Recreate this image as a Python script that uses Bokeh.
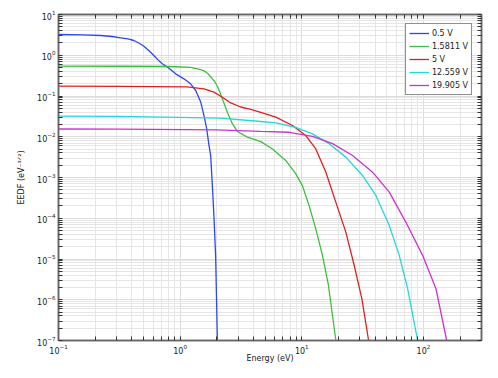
import numpy as np
from bokeh.plotting import figure
from bokeh.models import LogAxis, FixedTicker, Range1d, CustomJSTickFormatter
from bokeh.embed import file_html
from bokeh.resources import INLINE

# ---- data (log10 values) ----
series_labels = ["0.5 V", "1.5811 V", "5 V", "12.559 V", "19.905 V"]
series_colors = ["#2a48f5", "#3cbf3c", "#e02020", "#22d8d8", "#cc33cc"]

logE_05 = [-1, -0.8, -0.654, -0.56, -0.49, -0.43, -0.38, -0.34, -0.298, -0.256, -0.216, -0.18, -0.147, -0.092, -0.037, 0.031, 0.086, 0.128, 0.169, 0.196, 0.218, 0.237, 0.251, 0.267, 0.28, 0.292, 0.306, 0.31]
logF_05 = [0.509, 0.50, 0.485, 0.46, 0.428, 0.40, 0.362, 0.30, 0.222, 0.11, -0.006, -0.12, -0.21, -0.317, -0.456, -0.579, -0.70, -0.865, -1.15, -1.48, -1.80, -2.21, -2.46, -3.32, -4.1, -4.96, -7.0, -7.5]

logE_158 = [-1, -0.5, -0.078, 0.086, 0.169, 0.2, 0.224, 0.245, 0.265, 0.285, 0.306, 0.327, 0.347, 0.388, 0.429, 0.470, 0.553, 0.663, 0.759, 0.868, 0.951, 1.005, 1.060, 1.115, 1.170, 1.219, 1.280, 1.29]
logF_158 = [-0.268, -0.27, -0.276, -0.30, -0.35, -0.39, -0.44, -0.51, -0.58, -0.65, -0.76, -0.91, -1.07, -1.40, -1.68, -1.87, -2.01, -2.12, -2.30, -2.58, -2.91, -3.20, -3.69, -4.26, -4.91, -5.65, -7.0, -7.3]

logE_5 = [-1, -0.5, 0.059, 0.196, 0.278, 0.347, 0.416, 0.498, 0.58, 0.663, 0.786, 0.923, 1.033, 1.115, 1.198, 1.280, 1.362, 1.431, 1.494, 1.549, 1.555]
logF_5 = [-0.759, -0.762, -0.775, -0.824, -0.906, -1.03, -1.17, -1.27, -1.33, -1.40, -1.52, -1.724, -1.97, -2.30, -2.87, -3.61, -4.34, -5.16, -5.98, -7.0, -7.2]

logE_1256 = [-1, -0.5, 0.333, 0.663, 0.786, 0.951, 1.088, 1.225, 1.362, 1.499, 1.609, 1.719, 1.801, 1.870, 1.952, 1.96]
logF_1256 = [-1.495, -1.50, -1.545, -1.626, -1.66, -1.77, -1.93, -2.17, -2.50, -2.95, -3.44, -4.18, -4.91, -5.73, -7.0, -7.3]

logE_1990 = [-1, -0.5, 0.3, 0.663, 0.896, 1.088, 1.253, 1.417, 1.582, 1.719, 1.856, 1.993, 2.103, 2.191, 2.2]
logF_1990 = [-1.81, -1.812, -1.83, -1.87, -1.89, -1.99, -2.17, -2.46, -2.87, -3.36, -4.10, -4.91, -5.73, -7.0, -7.2]

x_major = [0.1, 1, 10, 100]
x_minor = [m * 10.0 ** k for k in range(-1, 3) for m in range(2, 10)]
y_major = [10.0 ** k for k in range(-7, 2)]
y_minor = [m * 10.0 ** k for k in range(-8, 1) for m in range(2, 10)]

FONT = "DejaVu Sans"

p = figure(frame_width=423, frame_height=326,
           x_axis_type="log", y_axis_type="log",
           x_range=Range1d(0.1, 300), y_range=Range1d(1e-7, 10),
           output_backend="svg", toolbar_location=None,
           min_border_left=58, min_border_top=14, min_border_right=17, min_border_bottom=38,
           x_axis_label="Energy (eV)", y_axis_label="EEDF (eV⁻³ᐟ²)")

p.background_fill_color = "white"
p.outline_line_color = "#666666"
p.outline_line_width = 1.5

xt = FixedTicker(ticks=x_major, minor_ticks=x_minor)
yt = FixedTicker(ticks=y_major, minor_ticks=y_minor)
p.xaxis.ticker = xt
p.yaxis.ticker = yt

for ax in (p.xaxis[0], p.yaxis[0]):
    ax.axis_line_color = "#666666"
    ax.axis_line_width = 1.5
    ax.major_tick_in = 4
    ax.major_tick_out = 0
    ax.minor_tick_in = 4
    ax.minor_tick_out = 0
    ax.major_tick_line_color = "#333333"
    ax.minor_tick_line_color = "#333333"
    ax.major_label_text_font = FONT
    ax.major_label_text_font_size = "8px"
    ax.major_label_text_color = "#222222"
    ax.axis_label_text_font = FONT
    ax.axis_label_text_font_size = "8px"
    ax.axis_label_text_font_style = "normal"
    ax.axis_label_text_color = "#222222"
    ax.major_label_standoff = 3
p.yaxis.axis_label_standoff = 8
p.xaxis.axis_label_standoff = -3

blank = CustomJSTickFormatter(code="return ''")
top = LogAxis(ticker=xt, formatter=blank)
right = LogAxis(ticker=yt, formatter=blank)
for ax in (top, right):
    ax.axis_line_color = "#666666"
    ax.axis_line_width = 1.5
    ax.major_tick_in = 4
    ax.major_tick_out = 0
    ax.minor_tick_in = 4
    ax.minor_tick_out = 0
    ax.major_tick_line_color = "#333333"
    ax.minor_tick_line_color = "#333333"
    ax.major_label_standoff = 0
    ax.major_label_text_font_size = "0px"
p.add_layout(top, "above")
p.add_layout(right, "right")

for g in (p.xgrid[0], p.ygrid[0]):
    g.grid_line_color = "#dcdcdc"
    g.grid_line_width = 1
    g.minor_grid_line_color = "#e6e6e6"
    g.minor_grid_line_width = 1

series = [(logE_05, logF_05), (logE_158, logF_158), (logE_5, logF_5),
          (logE_1256, logF_1256), (logE_1990, logF_1990)]
for (le, lf), lab, col in zip(series, series_labels, series_colors):
    p.line(10.0 ** np.array(le), 10.0 ** np.array(lf), line_color=col,
           line_width=1.3, legend_label=lab)

lg = p.legend[0]
lg.location = "top_right"
lg.margin = 9
lg.border_line_color = "#222222"
lg.border_line_width = 1.5
lg.background_fill_color = "white"
lg.background_fill_alpha = 1
lg.label_text_font = FONT
lg.label_text_font_size = "8px"
lg.label_text_color = "#222222"
lg.glyph_width = 20
lg.glyph_height = 12
lg.label_height = 12
lg.spacing = 1
lg.padding = 3
lg.label_standoff = 3

open("out.html", "w").write(file_html(p, INLINE))
